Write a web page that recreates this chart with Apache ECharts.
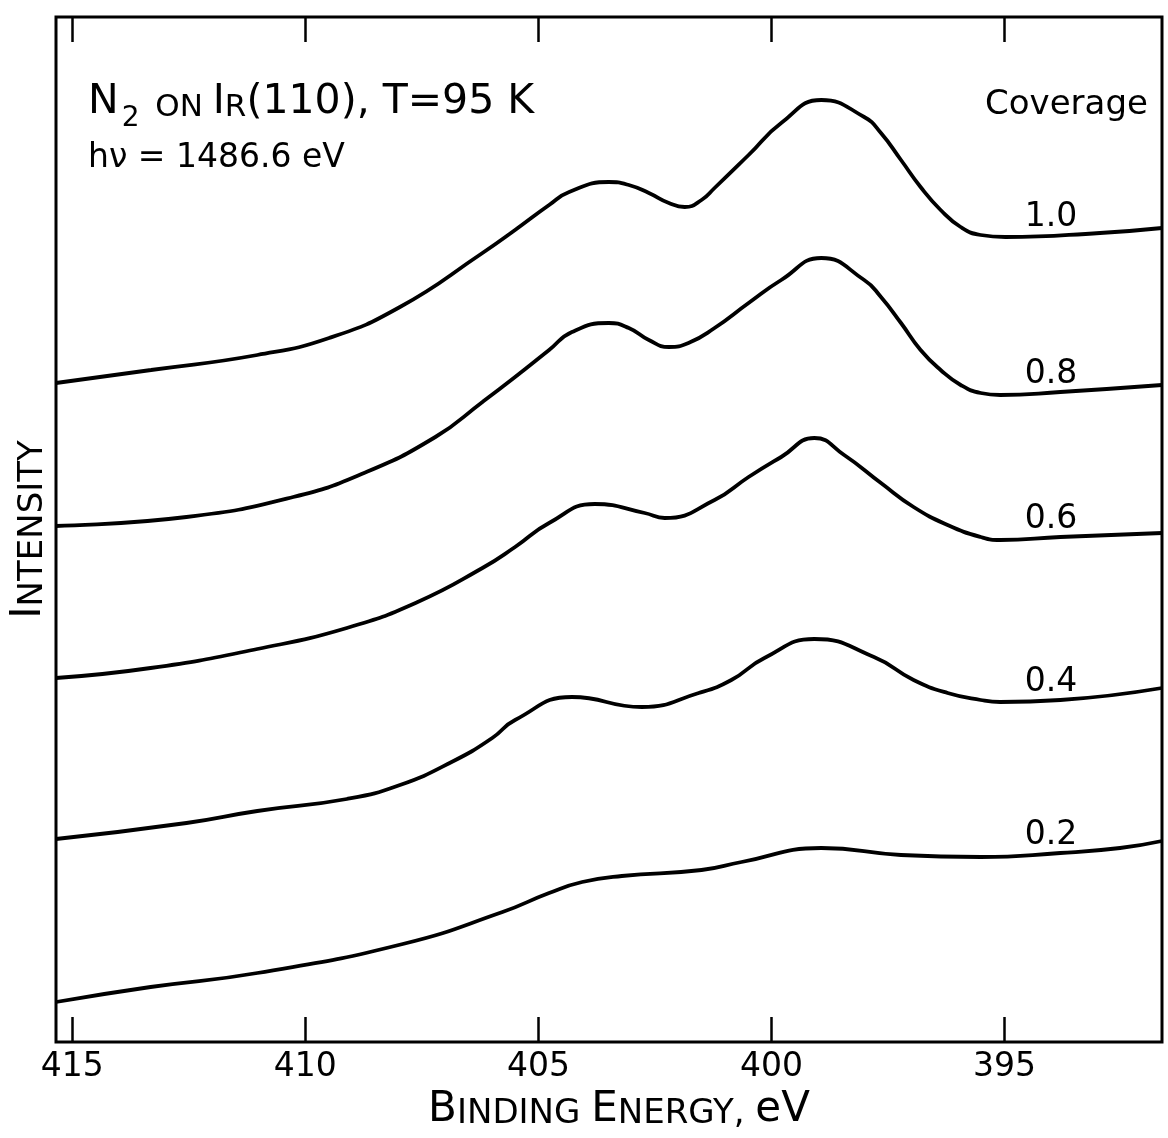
<!DOCTYPE html>
<html><head><meta charset="utf-8">
<script src="https://cdn.jsdelivr.net/npm/echarts@6/dist/echarts.min.js"></script>
<style>html,body{margin:0;padding:0;background:#fff}#c{width:1168px;height:1138px}</style>
</head><body><div id="c"></div>
<script>
// ---- data (binding energy in eV, intensity in arbitrary units) ----
const energyTicks = [415, 410, 405, 400, 395];
const coverages = ['1.0', '0.8', '0.6', '0.4', '0.2'];

const e10 = [415.35, 413.31, 411.03, 409.49, 407.97, 406.20, 405.50, 404.77, 404.34, 403.49, 403.06, 402.63, 402.20, 401.86, 401.50, 401.22, 400.49, 399.79, 398.93, 398.01, 397.65, 397.22, 396.80, 396.37, 395.94, 395.51, 394.98, 392.95, 391.62];
const i10 = [65.9, 67.2, 68.7, 70.4, 73.5, 78.9, 81.2, 83.7, 85.0, 86.0, 85.7, 84.9, 83.9, 83.5, 84.2, 85.4, 88.7, 91.9, 94.2, 92.5, 90.9, 88.2, 85.5, 83.2, 81.5, 80.7, 80.5, 80.9, 81.4];

const e08 = [415.35, 412.55, 410.26, 408.74, 407.21, 406.20, 405.50, 404.77, 404.28, 403.49, 403.06, 402.63, 402.20, 401.78, 401.22, 400.49, 399.79, 398.93, 398.01, 397.65, 397.22, 396.80, 396.37, 395.94, 395.51, 395.09, 393.80, 391.62];
const i08 = [51.6, 52.5, 54.5, 56.9, 60.5, 64.0, 66.5, 69.2, 71.0, 71.9, 71.4, 70.2, 69.5, 69.9, 71.4, 73.9, 76.2, 78.4, 76.2, 74.5, 71.9, 69.2, 67.2, 65.7, 64.9, 64.7, 65.0, 65.7];

const e06 = [415.35, 413.32, 411.03, 409.11, 407.59, 406.20, 405.50, 404.77, 403.79, 402.72, 402.29, 401.22, 400.49, 399.79, 399.08, 398.44, 397.65, 396.95, 396.22, 395.51, 395.09, 393.80, 391.62];
const i06 = [36.4, 37.4, 39.3, 41.4, 44.0, 47.4, 49.5, 51.9, 53.8, 52.9, 52.4, 54.2, 56.5, 58.5, 60.4, 58.7, 55.9, 53.5, 51.7, 50.5, 50.2, 50.5, 50.9];

const e04 = [415.35, 412.55, 411.03, 409.11, 407.97, 406.82, 405.99, 405.50, 404.28, 402.78, 401.56, 400.86, 400.15, 399.08, 397.80, 396.95, 396.22, 395.51, 395.09, 393.80, 391.62];
const i04 = [20.3, 21.9, 23.1, 24.3, 25.7, 28.1, 30.4, 32.2, 34.5, 33.5, 34.9, 36.2, 38.4, 40.3, 38.5, 36.2, 34.9, 34.2, 34.0, 34.2, 35.4];

const e02 = [415.35, 413.32, 411.03, 407.91, 405.77, 404.77, 404.06, 403.21, 401.50, 400.64, 398.93, 397.22, 395.51, 393.80, 392.52, 391.62];
const i02 = [4.0, 5.5, 6.9, 9.8, 13.0, 14.9, 16.0, 16.6, 17.2, 18.0, 19.4, 18.7, 18.5, 18.9, 19.4, 20.1];

const energies = [e10, e08, e06, e04, e02];
const intensities = [i10, i08, i06, i04, i02];
const labelEnergy = 394.0;

// ---- chart ----
const FONT = 'DejaVu Sans';
function pairs(es, is) { return es.map((e, k) => [e, is[k]]); }
function valueAt(es, is, e) {
  for (let k = 0; k < es.length - 1; k++) {
    if (es[k] >= e && es[k + 1] <= e) {
      const t = (es[k] - e) / (es[k] - es[k + 1]);
      return is[k] + t * (is[k + 1] - is[k]);
    }
  }
  return is[is.length - 1];
}

const series = coverages.map((cov, n) => ({
  type: 'line',
  name: cov,
  data: pairs(energies[n], intensities[n]),
  smooth: 0.5,
  showSymbol: false,
  silent: true,
  lineStyle: { color: '#000', width: 3.8 },
  markPoint: {
    symbol: 'circle', symbolSize: 1,
    itemStyle: { color: 'rgba(0,0,0,0)' },
    label: { show: true, position: 'top', distance: 1, formatter: cov,
      fontFamily: FONT, fontSize: 33, color: '#000' },
    data: [{ coord: [labelEnergy, valueAt(energies[n], intensities[n], labelEnergy)] }]
  }
}));

const chart = echarts.init(document.getElementById('c'), null, { renderer: 'canvas' });
chart.setOption({
  backgroundColor: '#fff',
  animation: false,
  grid: { left: 52, right: 6, top: 17, bottom: 96, show: true, borderColor: '#000', borderWidth: 3, containLabel: false },
  xAxis: [{
    type: 'value', inverse: true, min: 391.62, max: 415.35, position: 'bottom',
    axisLine: { show: false }, splitLine: { show: false },
    axisTick: { show: true, inside: true, length: 25, customValues: energyTicks, lineStyle: { color: '#000', width: 2.5 } },
    axisLabel: { show: true, customValues: energyTicks, margin: 9, fontFamily: FONT, fontSize: 33, color: '#000' },
    name: '{b|B}{s|INDING} {b|E}{s|NERGY,} {b|eV}',
    nameLocation: 'middle', nameGap: 44,
    nameTextStyle: { fontFamily: FONT, fontSize: 34, color: '#000', padding: [0, 0, 0, 20],
      rich: {
        b: { fontFamily: FONT, fontSize: 42, lineHeight: 42, verticalAlign: 'bottom', color: '#000' },
        s: { fontFamily: FONT, fontSize: 34, lineHeight: 34, verticalAlign: 'bottom', color: '#000' }
      } }
  }, {
    type: 'value', inverse: true, min: 391.62, max: 415.35, position: 'top',
    axisLine: { show: false }, splitLine: { show: false },
    axisTick: { show: true, inside: true, length: 25, customValues: energyTicks, lineStyle: { color: '#000', width: 2.5 } },
    axisLabel: { show: false }
  }],
  yAxis: {
    type: 'value', min: 0, max: 102.5,
    axisLine: { show: false }, axisTick: { show: false }, axisLabel: { show: false }, splitLine: { show: false },
    name: '{b|I}{s|NTENSITY}', nameLocation: 'middle', nameGap: 6, nameRotate: 90,
    nameTextStyle: { fontFamily: FONT, fontSize: 34, color: '#000',
      rich: {
        b: { fontFamily: FONT, fontSize: 42, lineHeight: 42, verticalAlign: 'bottom', color: '#000' },
        s: { fontFamily: FONT, fontSize: 34, lineHeight: 34, verticalAlign: 'bottom', color: '#000' }
      } }
  },
  series: series,
  graphic: [
    { type: 'text', left: 88, top: 82, silent: true,
      style: {
        text: '{b|N}{sub|2}{s| ON }{b|I}{s|R}{b|(110), T=95 K}',
        rich: {
          b: { fontFamily: FONT, fontSize: 41, lineHeight: 41, padding: [0, 0, 10, 0], verticalAlign: 'bottom', fill: '#000' },
          s: { fontFamily: FONT, fontSize: 31, lineHeight: 31, padding: [0, 0, 10, 0], verticalAlign: 'bottom', fill: '#000' },
          sub: { fontFamily: FONT, fontSize: 28, lineHeight: 28, padding: [0, 6, 0, 3], verticalAlign: 'bottom', fill: '#000' }
        }
      } },
    { type: 'text', left: 88, top: 142, silent: true,
      style: { text: 'h\u03BD = 1486.6 eV', fontFamily: FONT, fontSize: 33, fill: '#000' } },
    { type: 'text', left: 985, top: 88, silent: true,
      style: { text: 'Coverage', fontFamily: FONT, fontSize: 34, fill: '#000' } }
  ]
});
</script>
</body></html>
